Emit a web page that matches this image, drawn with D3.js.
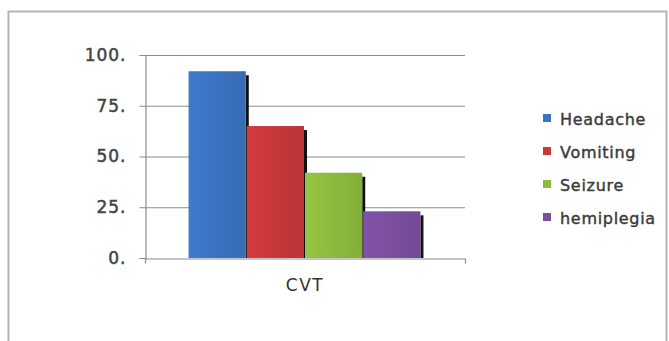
<!DOCTYPE html>
<html>
<head>
<meta charset="utf-8">
<script src="https://cdn.jsdelivr.net/npm/d3@7"></script>
<style>
  body { margin: 0; background: #fff; }
  svg { display: block; }
</style>
</head>
<body>
<div id="chart"></div>
<script>
// chart data
const categories = ["CVT"];
const seriesNames = ["Headache", "Vomiting", "Seizure", "hemiplegia"];
const seriesValues = [92, 65, 42, 23];
const seriesColors = ["#3b74c2", "#c9383a", "#8dbb3d", "#7b4f9f"];
const yTicks = [0, 25, 50, 75, 100];
const yTickLabels = ["0.", "25.", "50.", "75.", "100."];

const W = 669, H = 341;
const font = "'DejaVu Sans', Verdana, sans-serif";
const svg = d3.select("#chart").append("svg")
    .attr("width", W).attr("height", H);

// outer chart frame
svg.append("rect")
    .attr("x", 8.5).attr("y", 11.5)
    .attr("width", 658).attr("height", 340)
    .attr("fill", "#fff")
    .attr("stroke", "#b3b3b3").attr("stroke-width", 2);

const plot = {left: 145, right: 465, top: 55, bottom: 258};

const y = d3.scaleLinear().domain([0, 100]).range([plot.bottom, plot.top]);
const x0 = d3.scaleBand().domain(categories).range([plot.left, plot.right])
    .paddingInner(0).paddingOuter(0.187);
const x1 = d3.scaleBand().domain(seriesNames).range([0, x0.bandwidth()]).padding(0);

// gradients
const defs = svg.append("defs");
seriesColors.forEach((c, i) => {
  const g = defs.append("linearGradient").attr("id", "grad" + i)
      .attr("x1", 0).attr("y1", 0).attr("x2", 1).attr("y2", 0);
  g.append("stop").attr("offset", "0%").attr("stop-color", d3.color(c).brighter(0.15));
  g.append("stop").attr("offset", "100%").attr("stop-color", d3.color(c).darker(0.2));
});

// gridlines
svg.append("g")
  .selectAll("line").data(yTicks.filter(d => d > 0)).join("line")
    .attr("x1", plot.left).attr("x2", plot.right)
    .attr("y1", d => y(d) + 0.5).attr("y2", d => y(d) + 0.5)
    .attr("stroke", "#8c8c8c").attr("stroke-width", 1.2);

// y axis
const yAxis = svg.append("g")
    .attr("transform", `translate(${plot.left + 0.5},0)`)
    .call(d3.axisLeft(y).tickValues(yTicks).tickSize(6)
        .tickFormat((d, i) => yTickLabels[i]));
yAxis.select(".domain").attr("stroke", "#8c8c8c").attr("stroke-width", 1.2);
yAxis.selectAll(".tick line").attr("stroke", "#8c8c8c");
yAxis.selectAll(".tick text")
    .attr("x", -19)
    .attr("fill", "#444")
    .attr("stroke", "#444").attr("stroke-width", 0.5)
    .style("font-family", font)
    .style("letter-spacing", "1px")
    .style("font-size", "17px");

// x axis
const xAxis = svg.append("g")
    .attr("transform", `translate(0,${plot.bottom + 0.5})`)
    .call(d3.axisBottom(x0).tickSize(0).tickSizeOuter(5));
xAxis.select(".domain").attr("stroke", "#8c8c8c").attr("stroke-width", 1.2);
xAxis.selectAll(".tick text")
    .attr("dy", 0).attr("y", 32)
    .attr("fill", "#333")
    .style("font-family", font)
    .style("letter-spacing", "1.5px")
    .style("font-size", "17px");

// bars
const groups = svg.append("g").selectAll("g").data(categories).join("g")
    .attr("transform", d => `translate(${x0(d)},0)`);

const bars = groups.selectAll("g.bar")
  .data(seriesNames.map((s, i) => ({s, v: seriesValues[i], i})))
  .join("g").attr("class", "bar");

// dark side edge
bars.append("rect")
    .attr("x", d => x1(d.s) + x1.bandwidth() - 1)
    .attr("y", d => y(d.v) + 4)
    .attr("width", 3)
    .attr("height", d => plot.bottom - y(d.v) - 4)
    .attr("fill", "#111");

bars.append("rect")
    .attr("x", d => x1(d.s))
    .attr("y", d => y(d.v))
    .attr("width", x1.bandwidth() - 1)
    .attr("height", d => plot.bottom - y(d.v))
    .attr("fill", d => `url(#grad${d.i})`);

// legend
const legend = svg.append("g")
  .selectAll("g").data(seriesNames).join("g")
    .attr("transform", (d, i) => `translate(543,${118 + i * 33})`);
legend.append("rect")
    .attr("x", 0).attr("y", -4).attr("width", 8).attr("height", 8)
    .attr("fill", (d, i) => seriesColors[i]);
legend.append("text")
    .attr("x", 17).attr("y", 1).attr("dy", "0.35em")
    .attr("fill", "#3a3a3a")
    .attr("stroke", "#3a3a3a").attr("stroke-width", 0.4)
    .style("font-family", font)
    .style("letter-spacing", "0.7px")
    .style("font-size", "16px")
    .text(d => d);
</script>
</body>
</html>
